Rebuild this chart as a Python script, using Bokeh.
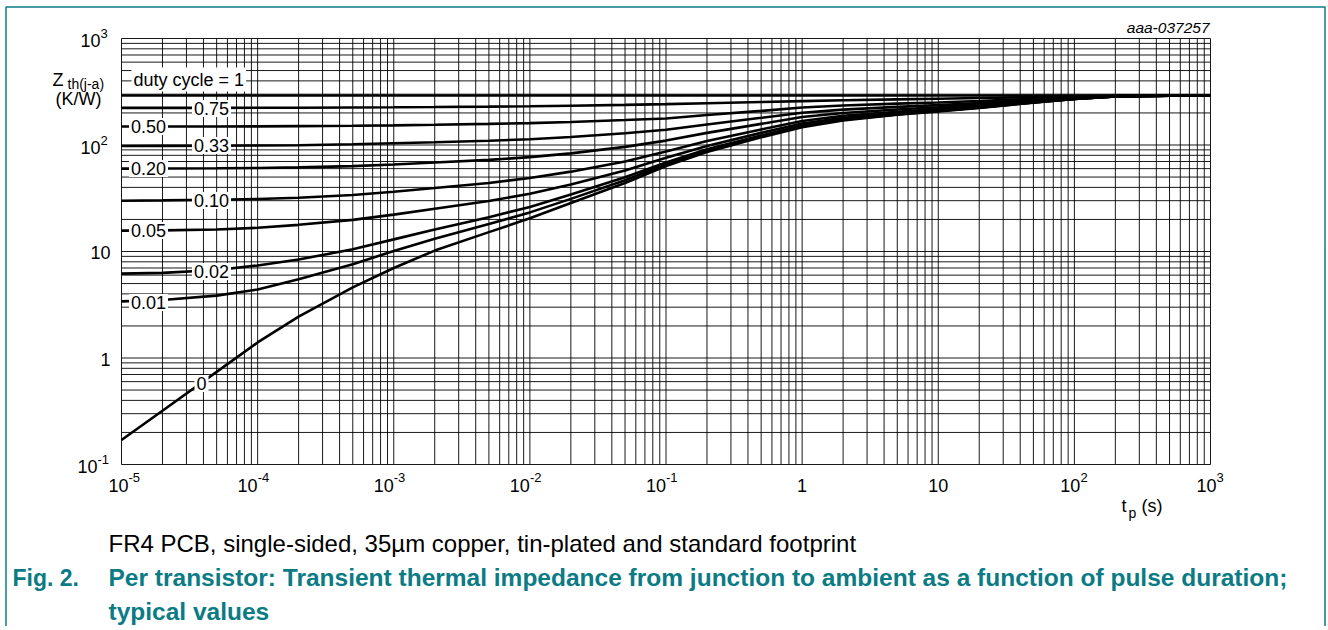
import math
from bokeh.plotting import figure
from bokeh.models import Range1d, Label
from bokeh.embed import file_html
from bokeh.resources import INLINE

# ---------------- data ----------------
t_s = [1e-5, 2e-5, 5e-5, 1e-4, 2e-4, 5e-4, 1e-3, 2e-3, 5e-3, 1e-2, 2e-2, 5e-2,
       0.1, 0.2, 0.5, 1, 2, 5, 10, 20, 50, 100, 200, 500, 1000]

zth_d100 = [292, 292, 292, 292, 292, 292, 292, 292, 292, 292, 292, 292,
            292, 292, 292, 292, 292, 292, 292, 292, 292, 292, 292, 292, 292]
zth_d075 = [223, 223.1, 223.3, 223.6, 224, 225, 226, 227.3, 229.2, 231, 233.7, 238,
            242, 247, 253, 258, 263, 268, 272, 276, 282, 286, 289.5, 291.6, 292]
zth_d050 = [149, 149.1, 149.4, 149.7, 150.3, 151.5, 153, 155, 158, 160.5, 164.5, 171.5,
            177.5, 191, 209, 225, 235, 244.5, 251, 259, 271.5, 281, 288.5, 291.3, 292]
zth_d033 = [98, 98.1, 98.4, 98.8, 99.6, 101.5, 103.7, 106.2, 109.8, 113.3, 118.8, 129,
            139, 156, 180, 201, 215, 228, 237, 247.5, 265, 277, 287.5, 291, 292]
zth_d020 = [60, 60.1, 60.4, 60.8, 61.6, 63.4, 65.6, 68.4, 72.5, 77, 83.5, 96,
            110, 130, 158, 183, 200, 215.5, 226.5, 238.5, 259, 274, 286.5, 290.8, 292]
zth_d010 = [30, 30.2, 30.6, 31.1, 32, 33.9, 36.4, 39.4, 44, 49, 56.2, 70,
            87, 109, 140, 168, 188, 205, 217.5, 231.5, 255, 272, 286, 290.7, 292]
zth_d005 = [15.7, 15.8, 16.1, 16.7, 17.8, 19.8, 22.2, 25.2, 29.8, 34.8, 42.5, 57.5,
            76, 98, 130, 159, 180, 199.5, 213, 228, 253, 271, 285.5, 290.6, 292]
zth_d002 = [6.2, 6.3, 6.7, 7.4, 8.4, 10.5, 13, 16.1, 21, 26.2, 34.3, 49.8,
            68.5, 91, 123, 152.5, 175, 195.5, 210, 225.5, 251.5, 270.5, 285.2, 290.5, 292]
zth_d001 = [3.4, 3.5, 3.85, 4.4, 5.5, 7.6, 10.1, 13.2, 18.1, 23.3, 31.2, 46.7,
            66, 88.5, 120.5, 150, 173, 194, 209, 224.5, 251, 270.3, 285, 290.5, 292]
zth_d000 = [0.17, 0.32, 0.74, 1.4, 2.45, 4.6, 7.0, 10.2, 15.2, 20.5, 28.5, 44,
            63.5, 86, 118, 147, 170, 192, 207, 223, 250, 270, 285, 290.5, 292]

series = [zth_d100, zth_d075, zth_d050, zth_d033, zth_d020,
          zth_d010, zth_d005, zth_d002, zth_d001, zth_d000]
curve_labels = ["duty cycle = 1", "0.75", "0.50", "0.33", "0.20",
                "0.10", "0.05", "0.02", "0.01", "0"]

x_tick_vals = [1e-5, 1e-4, 1e-3, 1e-2, 1e-1, 1, 10, 100, 1000]
x_tick_base = ["10", "10", "10", "10", "10", "1", "10", "10", "10"]
x_tick_exp = ["-5", "-4", "-3", "-2", "-1", "", "", "2", "3"]
y_tick_vals = [1000, 100, 10, 1, 0.1]
y_tick_base = ["10", "10", "10", "1", "10"]
y_tick_exp = ["3", "2", "", "", "-1"]

figure_id = "aaa-037257"
note_text = "FR4 PCB, single-sided, 35\u00b5m copper, tin-plated and standard footprint"
fig_no = "Fig. 2."
caption_1 = "Per transistor: Transient thermal impedance from junction to ambient as a function of pulse duration;"
caption_2 = "typical values"

# ---------------- geometry (page pixels) ----------------
FONT = "Liberation Sans"
TEAL = "#0b7b84"
W, H = 1326, 626
FR_L, FR_R, FR_T, FR_B = 121, 1210, 38, 464      # chart area on the page
X0, X1 = 1e-5, 1e3
Y0, Y1 = 0.1, 1e3
LX0, LX1 = math.log10(X0), math.log10(X1)
LY0, LY1 = math.log10(Y0), math.log10(Y1)
SX = (FR_R - FR_L) / (LX1 - LX0)     # px per decade
SY = (FR_B - FR_T) / (LY1 - LY0)


def dx(px):
    return 10 ** (LX0 + (px - FR_L) / SX)


def dy(py):
    return 10 ** (LY1 - (py - FR_T) / SY)


# the plotting frame spans the whole canvas; the log scales are extended so that
# the chart area 1e-5..1e3 x 0.1..1e3 sits where it does in the reference
p = figure(frame_width=W, frame_height=H,
           x_axis_type="log", y_axis_type="log",
           x_range=Range1d(dx(0), dx(W)), y_range=Range1d(dy(H), dy(0)),
           output_backend="svg", toolbar_location=None,
           min_border=0)
p.background_fill_color = "white"
p.border_fill_color = "white"
p.outline_line_color = None
p.xaxis.visible = False
p.yaxis.visible = False
p.grid.visible = False

# grid (major + minor decades)
x_grid = [m * 10.0 ** k for k in range(-5, 3) for m in range(1, 10)] + [X1]
y_grid = [m * 10.0 ** k for k in range(-1, 3) for m in range(1, 10)] + [Y1]
p.segment(x0=x_grid, x1=x_grid, y0=[Y0] * len(x_grid), y1=[Y1] * len(x_grid),
          line_color="black", line_width=1, line_alpha=0.9)
p.segment(x0=[X0] * len(y_grid), x1=[X1] * len(y_grid), y0=y_grid, y1=y_grid,
          line_color="black", line_width=1, line_alpha=0.9)

for z in series:
    p.line(t_s, z, line_color="black", line_width=2.6)


def txt(px, py, text, size, align="left", bold=False, italic=False,
        color="black", bg=None, pad=0):
    style = "bold" if bold else ("italic" if italic else "normal")
    lab = Label(x=dx(px), y=dy(py), text=text, text_font=FONT,
                text_font_size=f"{size}px", text_align=align,
                text_baseline="middle", text_color=color,
                text_font_style=style,
                background_fill_color=bg, padding=pad)
    p.add_layout(lab)


# curve labels (page-pixel placement)
lab_pos = [(131, 79, "left"), (211, 108, "center"), (148, 126, "center"),
           (211, 145, "center"), (148, 168, "center"), (211, 200, "center"),
           (148, 230, "center"), (211, 271, "center"), (148, 302, "center"),
           (201, 383, "center")]
for (px, py, al), s in zip(lab_pos, curve_labels):
    txt(px, py, s, 18, align=al, bg="white", pad=2)

# x tick labels
for v, b, e in zip(x_tick_vals, x_tick_base, x_tick_exp):
    tx = FR_L + (math.log10(v) - LX0) * SX
    if e:
        off = 7 if e == "-5" else (0 if len(e) == 2 else 6)
        txt(tx + off, 485, b, 18, align="right")
        txt(tx + off, 477, e, 13, align="left")
    else:
        txt(tx, 485, b, 18, align="center")

# y tick labels
for v, b, e in zip(y_tick_vals, y_tick_base, y_tick_exp):
    ty = FR_T + (LY1 - math.log10(v)) * SY
    if e:
        right = 97 if len(e) == 2 else 100
        txt(right, ty + 2, b, 18, align="right")
        txt(right, ty - 5, e, 13, align="left")
    else:
        txt(110, ty + 1, b, 18, align="right")

# axis titles
txt(52, 79, "Z", 18)
txt(67, 83, "th(j-a)", 14)
txt(55, 98, "(K/W)", 18)
txt(1121, 505, "t", 18)
txt(1128, 512, "p", 14)
txt(1141, 505, "(s)", 18)

# id and captions
txt(1209, 27, figure_id, 15.5, align="right", italic=True)
txt(108, 543, note_text, 24)
txt(12, 577, fig_no, 23, bold=True, color=TEAL)
txt(108, 577, caption_1, 24.5, bold=True, color=TEAL)
txt(108, 611, caption_2, 24.5, bold=True, color=TEAL)

# outer teal frame (left, top, right)
p.line([dx(5.5), dx(5.5), dx(1324.5), dx(1324.5)],
       [dy(H), dy(6.5), dy(6.5), dy(H)], line_color=TEAL, line_width=1.5)

open("out.html", "w").write(file_html(p, INLINE))
